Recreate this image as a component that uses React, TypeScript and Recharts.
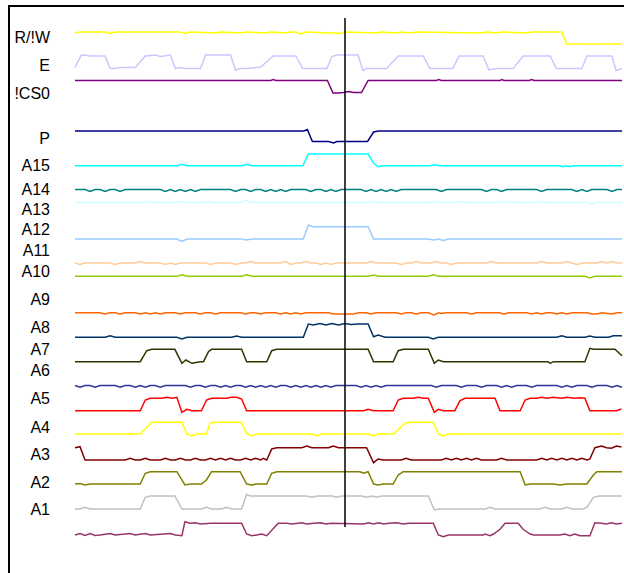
import { LineChart, Line, XAxis, YAxis, ReferenceLine } from 'recharts';

type Pt = [number, number];

// sample index (0..109) vs. level
const RW: Pt[] = [[0,515],[1,516],[6,516],[7,514.5],[8,516],[21,516],[22,514.5],[23,516],[28,515],[29,516],[33,515],[34,516],[38,515],[39,516],[42,515],[43,516],[44,516],[45,514],[46,516],[51,515],[52,515],[53,514.5],[54,516],[60,515],[61,516],[64,515],[65,516],[67,515],[68,516],[81,515],[82,516],[84,515],[85,516],[90,515],[91,516],[97,516],[98,504],[102,504],[103,503.5],[104,504],[109,504]];
const E: Pt[] = [[0,480.5],[1.2,492.5],[2,493],[3,492],[6,492],[7,479.5],[8,479.5],[9,480.5],[12,480.5],[14,492],[16,493],[17,491.5],[19,493],[20,479.5],[21,480.5],[22,479.5],[25,479.5],[26,493],[31,493],[32,478],[33,479.5],[34.5,479.5],[37,481],[39.5,492],[44,492],[45.4,479.5],[50.2,479.5],[51.2,491.5],[52.2,493],[56.4,493],[57.4,477.5],[58.1,479.5],[62.1,479.5],[64.4,492],[69.4,492],[70.7,479.5],[75.3,479.5],[76.5,492],[81.3,492],[82.5,478],[84,479.5],[87.3,479.5],[89.3,492],[94.7,492],[95.9,479.5],[101,479.5],[102,492],[107,492],[107.8,477.5],[109,479.5]];
const CS0: Pt[] = [[0,467.5],[39,467.5],[39.5,468.5],[40,467.5],[50.3,467.5],[51.4,455],[52.5,455],[53.5,455.5],[54.5,456.5],[55.5,455.5],[57.1,455.5],[58.4,467.5],[72,467.5],[72.5,468.5],[73,467.5],[84.7,467.5],[85,468.5],[85.5,467.5],[90.5,467.5],[91,468.5],[91.5,467.5],[109,467.5]];
const P: Pt[] = [[0,417],[45.6,417],[46.3,418.5],[47.3,406.5],[50.5,406.5],[51.5,405],[52.2,406.5],[58.3,406.5],[59.5,416],[60.4,417],[109,417]];
const A15: Pt[] = [[0,382.3],[20.3,382.3],[21.3,383.7],[22.3,382.3],[33.2,382.3],[34.2,383.7],[35.2,382.3],[45.4,382.3],[46.5,394],[58.4,394],[59.5,384.7],[60.4,381.3],[61.4,382.3],[70.7,382.3],[71.7,383.3],[72.7,382.3],[96.5,382.3],[97.3,381.3],[98,382.3],[98.6,381.3],[99.4,382.3],[109,382.3]];
const A14: Pt[] = [[0,358.5],[2,358.5],[3,356.5],[4,358.5],[5,358.5],[6,356.5],[7,358.5],[8,358.5],[9,356.5],[10,358.5],[17,358.5],[18,356.5],[19,358.5],[20,356.5],[21,358.5],[22,356.5],[23,358.5],[24,356.5],[25,358.5],[31,358.5],[32,356.5],[33,358.5],[34,358.5],[35,356.5],[36,358.5],[37,358.5],[38,356.5],[39,358.5],[40,356.5],[41,358.5],[42,356.5],[43,358.5],[46,358.5],[47,356.5],[48,358.5],[49,358.5],[50,356.5],[51,358.5],[52,356.5],[53,358.5],[57,358.5],[58,356.5],[59,358.5],[60,356.5],[61,358.5],[62,356.5],[63,358.5],[64,356.5],[65,358.5],[72,358.5],[73,356.5],[74,358.5],[81,358.5],[82,356.5],[83,358.5],[84,358.5],[85,356.5],[86,358.5],[92,358.5],[93,356.5],[94,358.5],[99,358.5],[100,356.5],[101,358.5],[102,356.5],[103,358.5],[106,358.5],[107,356.5],[108,358.5],[109,358.5]];
const A13: Pt[] = [[0,345.5],[14,345.5],[15,346.5],[16,345.5],[20,345.5],[21,346.5],[22,345.5],[25.5,345.5],[26.5,346.5],[27.5,345.5],[33,345.5],[34,348],[35,345.5],[58.5,345.5],[59.5,346.5],[60.5,345.5],[70.5,345.5],[71.5,346.5],[72.5,345.5],[76,345.5],[77,346.5],[78,345.5],[84,345.5],[85,346.5],[86,345.5],[87,346.5],[88,345.5],[92,345.5],[93,346.5],[94,345.5],[102,345.5],[103,344],[104,345.5],[109,345.5]];
const A12: Pt[] = [[0,309],[20.3,309],[21.3,306.5],[22.3,309],[33.2,309],[34.2,308],[35.2,309],[45.5,309],[46.5,323],[47.5,321.3],[58.4,321.3],[59.5,309],[70.4,309],[71.4,308],[72.4,309],[73.4,307.5],[74.4,309],[109,309]];
const A11: Pt[] = [[0,285],[1,283.5],[2,285],[7,285],[8,283.5],[9,285],[12,285],[13,286.5],[14,285],[17,285],[18,283.5],[19,285],[20,283.5],[21,285],[26,285],[27,283.5],[28,285],[31,285],[32,283.5],[33,285],[34,285],[35,286.5],[36,285],[41,285],[42,286.5],[43,283.5],[44,285],[45,285],[46,286.5],[47,285],[48,285],[49,283.5],[50,285],[51,283.5],[52,285],[58,285],[59,286.5],[60,285],[64,285],[65,283.5],[66,285],[67,285],[68,286.5],[69,285],[71,285],[72,286.5],[73,285],[74,285],[75,283.5],[76,285],[82,285],[83,286.5],[84,285],[92,285],[93,286.5],[94,285],[97,285],[98,286.5],[99,285],[100,283.5],[101,285],[104,285],[105,286.5],[106,285],[107,286.5],[108,285],[109,285]];
const A10: Pt[] = [[0,271.7],[20.3,271.7],[21.3,273.3],[22.3,271.7],[33.2,271.7],[34.2,273.3],[35.2,271.7],[58.5,271.7],[59.5,273],[60.5,271.7],[70.4,271.7],[71.4,273.3],[72.4,271.7],[101.6,271.7],[102.6,270],[103.6,271.7],[109,271.7]];
const A9: Pt[] = [[0,235.3],[5,235.3],[6,234],[7,235.3],[8,235.3],[9,234],[10,235.3],[12,235.3],[13,234],[14,235.3],[15,234],[16,235.3],[17,234],[18,235.3],[20,235.3],[21,234],[22,235.3],[24,235.3],[25,234],[26,235.3],[27,235.3],[28,234],[29,235.3],[33,235.3],[34,234],[35,235.3],[36,235.3],[37,234],[38,235.3],[40,235.3],[41,234],[42,235.3],[43,234],[44,235.3],[45,234],[46,235.3],[50.5,235.3],[51.5,234],[53.5,234],[55.5,234],[56.5,235.3],[58,235.3],[59,234],[60,235.3],[64,235.3],[65,234],[66,235.3],[67,235.3],[68,234],[69,235.3],[70.5,235.3],[71.5,233],[72.5,235.3],[73,234.5],[74,235.3],[78,235.3],[79,234],[80,235.3],[84.5,235.3],[85.5,234],[86.5,235.3],[90,235.3],[91,234],[92,235.3],[93,234],[94,235.3],[95,235.3],[96,234],[97,235.3],[98,234],[99,235.3],[102,235.3],[103,234],[104,234],[105,235.3],[107,234],[108,235.3],[109,235.3]];
const A8: Pt[] = [[0,210.7],[6,210.7],[7,212.3],[8,210.7],[20.3,210.7],[21.3,209],[22.3,210.7],[31.2,210.7],[32.2,212],[33.2,210.7],[45.5,210.7],[46.5,224],[47.5,223],[48.8,224.5],[50,223],[51.2,224.5],[52.5,223],[53.8,224.5],[55,223.5],[56.5,224],[58.4,224],[59.5,211.3],[60.4,213],[61.8,210.7],[70.4,210.7],[71.4,209],[72.4,210.7],[96,210.7],[97,212.3],[98,210.7],[101.6,210.7],[102.6,212],[103.6,210.7],[106.3,210.7],[107.3,212.3],[109,212.3]];
const A7: Pt[] = [[0,186.3],[13,186.3],[14.3,197.3],[15.3,198.7],[19.9,198.7],[21.3,184.7],[22.1,188],[23.3,184.7],[25,186.3],[25.6,186.3],[26.6,196.3],[27.2,198.7],[33.2,198.7],[34.2,186.3],[38.2,186.3],[39.2,197.3],[40.2,198.7],[58.4,198.7],[59.5,186.3],[63.4,186.3],[64.4,197.3],[65.4,198.7],[70.4,198.7],[71.6,184.7],[72.4,188],[73.4,186.3],[94.3,186.3],[94.7,184.7],[95.3,186.3],[101.6,186.3],[102.6,199.7],[103.3,198.7],[107.6,198.7],[109,192.3]];
const A6: Pt[] = [[0,162.5],[1,160.7],[2,162.5],[3,162.5],[4,160.7],[5,162.5],[8,162.5],[9,160.7],[10,162.5],[11,162.5],[12,160.7],[13,162.5],[14,160.7],[15,162.5],[16,162.5],[17,160.7],[18,162.5],[22,162.5],[23,160.7],[24,162.5],[25,162.5],[26,160.7],[27,162.5],[28,162.5],[29,160.7],[30,162.5],[31,160.7],[32,162.5],[33,162.5],[34,160.7],[35,162.5],[36,160.7],[37,162.5],[38,160.7],[39,162.5],[40,160.7],[41,162.5],[42,162.5],[43,160.7],[44,162.5],[45,160.7],[46,162.5],[47,160.7],[48,162.5],[49,160.7],[50,162.5],[51,160.7],[52,162.5],[56,162.5],[57,160.7],[58,162.5],[59,160.7],[60,162.5],[61,160.7],[62,162.5],[71,162.5],[72,160.7],[73,162.5],[76,162.5],[77,160.7],[78,162.5],[80,162.5],[81,160.7],[82,162.5],[84,162.5],[85,160.7],[86,162.5],[87,160.7],[88,162.5],[90,162.5],[91,160.7],[92,162.5],[96,162.5],[97,160.7],[98,162.5],[99,160.7],[100,162.5],[102,162.5],[103,160.7],[104,162.5],[106,162.5],[107,160.7],[108,162.5],[109,160.7]];
const A5: Pt[] = [[0,137.3],[13,137.3],[14,148],[15,149.7],[17.3,149.7],[18.3,150.7],[19.3,149.7],[20.3,150.7],[21.3,135.7],[22.3,138.7],[23.3,137.3],[25.2,137.3],[26.2,148],[27.2,149.7],[30.2,149.7],[31.2,150.7],[32.2,150.7],[33.2,149],[34.2,137.3],[57.5,137.3],[58.4,138.7],[59.5,137.3],[63.4,137.3],[64.4,148],[65.4,149.7],[67.4,149.7],[68.4,150.7],[69.4,149.7],[70.4,149.7],[71.6,135.7],[72.4,138.7],[73.4,137.3],[75.7,137.3],[76.7,147.3],[77.7,149.7],[83.7,149.7],[84.7,137.3],[88.7,137.3],[89.7,148],[90.7,149.7],[92,149.7],[93,150.7],[94,149.7],[95.3,150.7],[97,149.7],[98,150.7],[99.5,149.7],[100.6,150.2],[101.6,149.7],[102.6,137.3],[107.9,137.3],[108.9,139]];
const A4: Pt[] = [[0,114],[13,114],[15.3,125.7],[21.3,125.7],[22.3,114],[23.3,112],[24.3,114],[26.2,114],[26.9,124.7],[27.6,125.7],[33.2,125.7],[34.2,114],[35.2,112],[36.2,114],[47.2,114],[48.2,112],[49.2,114],[58.5,114],[59.5,112],[60.5,114],[63.4,114],[65.8,124.7],[66.8,125.7],[71.4,125.7],[72.4,114],[73.4,112],[74.4,114],[109,114]];
const A3: Pt[] = [[0,100.3],[1,101.3],[2,88],[10,88],[11,89.7],[12,88],[13,88],[14,89.7],[15,88],[17,88],[18,89.7],[19,88],[20,88],[21,89.7],[22,88],[23,88],[24,89.7],[25,88],[26,88],[27,89.7],[28,88],[29,89.7],[30,88],[31,89.7],[32,88],[33,88],[34,89.7],[35,88],[36,89.7],[37,88],[37.5,89.7],[38.2,88],[39.2,99],[40.2,100.3],[45.2,100.3],[46.2,102],[47.2,100.3],[50.5,100.3],[51.5,102],[52.5,100.3],[58.1,100.3],[59.5,85.3],[60.4,89],[61.4,88],[65,88],[66,89.7],[67,88],[73,88],[74,89.7],[75,88],[76,89.7],[77,88],[78,89.7],[79,88],[80,89.7],[81,88],[84,88],[85,89.7],[86,88],[92,88],[93,89.7],[94,88],[95,89.7],[96,88],[97,89.7],[98,88],[99,89.7],[100,88],[101,89.7],[102,88],[102.6,89],[103.6,100.3],[104.9,102],[105.9,100.3],[106.9,99.7],[107.9,102],[108.9,101]];
const A2: Pt[] = [[0,64],[1,64.5],[2,63],[3,64],[13,64],[14,74.7],[15,76.3],[20.3,76.3],[21.9,63],[22.9,64],[25.2,64],[26.2,68],[27.2,76.3],[32.9,76.3],[34.2,64],[35.2,63],[36.2,64],[38.2,64],[39.2,74.7],[40.2,76.3],[56.8,76.3],[57.5,74.7],[58.4,76.3],[59.5,64],[60.4,63],[61.4,64],[63.4,64],[64.4,73],[65.4,76.3],[88.7,76.3],[89.7,63],[90.7,64],[95.3,64],[96.7,63],[98,64],[102,64],[103.3,73],[104,76.3],[109,76.3]];
const A1: Pt[] = [[0,39],[1,39],[2,40.7],[3,39],[13,39],[14,50.7],[15,52],[19.9,52],[21.3,39],[25.2,39],[26.2,40.7],[27.2,39],[29.2,39],[30.2,40.7],[31.2,39],[33.2,39],[34.2,53.7],[34.9,52],[46.2,52],[47.2,50.7],[48.2,52],[51.2,52],[52.2,50.7],[53.2,52],[57.1,52],[58.1,50.7],[59.1,52],[60.1,50.7],[61.1,52],[70.4,52],[71.6,38],[72.7,39],[81.7,39],[82.7,40.7],[83.7,39],[92.7,39],[93.7,40.7],[94.7,39],[97,39],[98,40.7],[99,39],[101.3,39],[102,40.7],[103.3,50.7],[104.4,52],[109,52]];
const A0: Pt[] = [[0,13],[1,14.5],[2,12.5],[3,14.5],[4,12.5],[5,13],[7,14.5],[8,13],[11,14.5],[12,13],[14,14.5],[15,13],[19,14.5],[20,13],[21.3,12.3],[21.9,26.3],[22.9,24.7],[24,25.3],[25,24],[27,24.7],[33.2,24.7],[34.2,14],[35.2,12.3],[36.2,13],[37.2,14],[38.2,12.3],[40.5,24.7],[42.2,24.7],[43.2,24],[45.2,25.3],[46.2,24],[47.5,24.7],[49,25.3],[50,24],[51,24.7],[57.5,24],[58.5,25.3],[59.5,24],[60.5,25.3],[61.5,24],[62.5,24.7],[64.1,25.3],[65.4,24],[66.5,24.7],[71.4,24.7],[72.4,13],[73.4,11.3],[74.4,13],[81.4,13],[81.7,14],[82.7,12.3],[83.4,14],[84.7,18.7],[85.7,24.7],[88.3,24.7],[89.3,18.7],[90.7,14],[91.4,13],[96.6,13],[97.6,14],[98.6,12.3],[99.6,14],[100.6,12.3],[102.6,12.3],[103.6,25.3],[104.9,24.7],[105.9,24],[106.9,25.3],[107.9,24],[109,24.7]];

// signal names down the left side and where they sit
const LABELS = ['R/!W', 'E', '!CS0', 'P', 'A15', 'A14', 'A13', 'A12', 'A11', 'A10', 'A9', 'A8', 'A7', 'A6', 'A5', 'A4', 'A3', 'A2', 'A1'];
const LABEL_LEVELS = [511, 482.5, 455, 410, 382.5, 359, 339, 318.5, 298, 277, 249, 221, 198.5, 178, 149.5, 120.5, 93.5, 66, 39];

const CURSOR_T = 53.8;

const traces = [
  { name: 'R/!W', color: '#FFFF00', pts: RW },
  { name: 'E', color: '#C8C8FF', pts: E },
  { name: '!CS0', color: '#800080', pts: CS0 },
  { name: 'P', color: '#000080', pts: P },
  { name: 'A15', color: '#00FFFF', pts: A15 },
  { name: 'A14', color: '#008080', pts: A14 },
  { name: 'A13', color: '#CCFFFF', pts: A13 },
  { name: 'A12', color: '#99CCFF', pts: A12 },
  { name: 'A11', color: '#FFCC99', pts: A11 },
  { name: 'A10', color: '#99CC00', pts: A10 },
  { name: 'A9', color: '#FF6600', pts: A9 },
  { name: 'A8', color: '#003366', pts: A8 },
  { name: 'A7', color: '#333300', pts: A7 },
  { name: 'A6', color: '#333399', pts: A6 },
  { name: 'A5', color: '#FF0000', pts: A5 },
  { name: 'A4', color: '#FFFF00', pts: A4 },
  { name: 'A3', color: '#800000', pts: A3 },
  { name: 'A2', color: '#808000', pts: A2 },
  { name: 'A1', color: '#C0C0C0', pts: A1 },
  { name: 'A0', color: '#993366', pts: A0 },
];

export default function App() {
  return (
    <div style={{ position: 'fixed', left: 0, top: 0, width: 624, height: 573, overflow: 'hidden', background: '#fff' }}>
      <div style={{ position: 'absolute', left: 8, top: 5, width: 700, height: 700, border: '2px solid #000' }} />
      <div style={{ position: 'absolute', left: 0, top: 0 }}>
        <LineChart width={624} height={573} margin={{ top: 18, right: 2, bottom: 25, left: 0 }}>
          <XAxis dataKey="t" type="number" domain={[0, 109]} hide />
          <YAxis
            type="number"
            domain={[0, 530]}
            width={75}
            ticks={LABEL_LEVELS}
            interval={0}
            axisLine={false}
            tickLine={false}
            tickMargin={19}
            tickFormatter={(v: number) => LABELS[LABEL_LEVELS.indexOf(v)]}
            tick={{ fill: '#000', fontSize: 16, fontFamily: 'Liberation Sans, Arial, sans-serif' }}
          />
          {traces.map((tr) => (
            <Line
              key={tr.name}
              name={tr.name}
              data={tr.pts.map(([t, v]) => ({ t, v }))}
              dataKey="v"
              type="linear"
              stroke={tr.color}
              strokeWidth={1.5}
              dot={false}
              activeDot={false}
              isAnimationActive={false}
            />
          ))}
          <ReferenceLine
            segment={[{ x: CURSOR_T, y: 530 }, { x: CURSOR_T, y: 21 }]}
            stroke="#000"
            strokeWidth={1.5}
            ifOverflow="visible"
          />
        </LineChart>
      </div>
    </div>
  );
}
